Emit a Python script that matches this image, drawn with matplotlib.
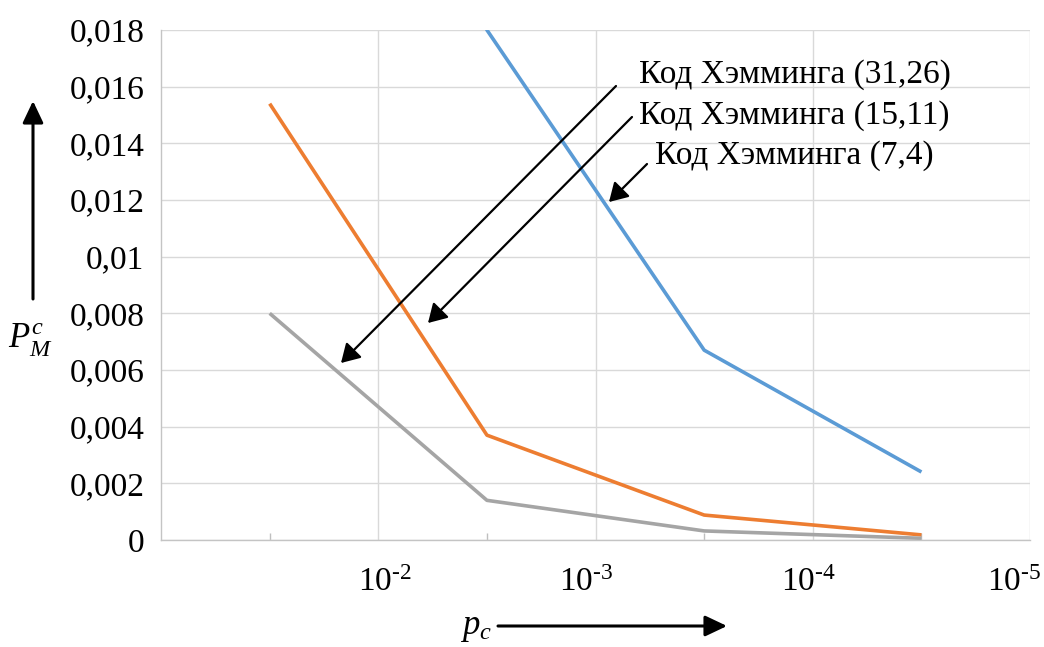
import matplotlib
matplotlib.use("Agg")
import matplotlib.pyplot as plt
from matplotlib.ticker import FixedLocator, NullFormatter, FixedFormatter
from matplotlib.patches import FancyArrowPatch
from matplotlib.transforms import ScaledTranslation

plt.rcParams['font.family'] = ['Liberation Serif', 'DejaVu Serif']
plt.rcParams['mathtext.fontset'] = 'custom'
plt.rcParams['mathtext.rm'] = 'Liberation Serif'
plt.rcParams['mathtext.it'] = 'Liberation Serif:italic'

# ---- data ----
p_values = [0.0316, 0.00316, 0.000316, 0.0000316]
hamming_7_4 = [0.048, 0.0180, 0.0067, 0.0024]
hamming_15_11 = [0.0154, 0.0037, 0.00088, 0.00018]
hamming_31_26 = [0.0080, 0.0014, 0.00032, 0.00006]

y_ticks = [0, 0.002, 0.004, 0.006, 0.008, 0.010, 0.012, 0.014, 0.016, 0.018]
y_labels = ['0', '0,002', '0,004', '0,006', '0,008', '0,01', '0,012', '0,014', '0,016', '0,018']
x_ticks = [1e-2, 1e-3, 1e-4, 1e-5]
x_labels = [r'$10^{\text{-}2}$', r'$10^{\text{-}3}$', r'$10^{\text{-}4}$', r'$10^{\text{-}5}$']

labels = ['Код Хэмминга (31,26)', 'Код Хэмминга (15,11)', 'Код Хэмминга (7,4)']

W, H = 1044, 647
fig = plt.figure(figsize=(W / 100, H / 100), dpi=100)
ax = fig.add_axes([161 / W, 1 - 540 / H, (1030 - 161) / W, (540 - 30) / H])

lw = 2.6
ax.plot(p_values, hamming_7_4, color='#5B9BD5', lw=lw, solid_capstyle='butt')
ax.plot(p_values, hamming_15_11, color='#ED7D31', lw=lw, solid_capstyle='butt')
ax.plot(p_values, hamming_31_26, color='#A5A5A5', lw=lw, solid_capstyle='butt')

ax.set_xscale('log')
ax.set_xlim(1e-1, 1e-5)
ax.set_ylim(0, 0.018)

ax.xaxis.set_major_locator(FixedLocator(x_ticks))
ax.xaxis.set_major_formatter(FixedFormatter(x_labels))
ax.xaxis.set_minor_locator(FixedLocator(p_values))
ax.xaxis.set_minor_formatter(NullFormatter())
ax.yaxis.set_major_locator(FixedLocator(y_ticks))
ax.yaxis.set_major_formatter(FixedFormatter(y_labels))

ax.tick_params(axis='both', which='major', length=0, labelsize=24)
ax.tick_params(axis='y', which='major', pad=12)
ax.tick_params(axis='x', which='major', pad=20)
ax.tick_params(axis='x', which='minor', direction='in', length=5, width=1, color='#BFBFBF')

# small horizontal shifts of the x tick labels, as in the reference
label_shift_px = [7, -9, -4, -16]
for lbl, dx in zip(ax.get_xticklabels(), label_shift_px):
    lbl.set_transform(lbl.get_transform() + ScaledTranslation(dx / 100, 0, fig.dpi_scale_trans))

ax.grid(True, which='major', color='#D9D9D9', lw=1.0)
ax.set_axisbelow(True)
for s in ['top', 'right']:
    ax.spines[s].set_visible(False)
for s in ['left', 'bottom']:
    ax.spines[s].set_color('#C4C4C4')
    ax.spines[s].set_linewidth(1.0)


def fx(px):
    return px / W


def fy(py):
    return 1 - py / H


# axis arrows
axis_arrow = '-|>,head_length=1.9,head_width=0.9'
fig.add_artist(FancyArrowPatch((fx(33), fy(299)), (fx(33), fy(101)), transform=fig.transFigure,
                               arrowstyle=axis_arrow, mutation_scale=7,
                               color='black', lw=2.2, shrinkA=0, shrinkB=0))
fig.add_artist(FancyArrowPatch((fx(498), fy(626)), (fx(727), fy(626)), transform=fig.transFigure,
                               arrowstyle=axis_arrow, mutation_scale=7,
                               color='black', lw=2.2, shrinkA=0, shrinkB=0))

fig.text(fx(8), fy(340), r'$P_M^c$', fontsize=25, va='center', ha='left')
fig.text(fx(460), fy(634), r'$p_c$', fontsize=25, va='baseline', ha='left')

# callouts
starts = [(616, 86), (632, 117), (647, 164)]
tips = [(341, 363), (428, 323), (609, 202)]
text_pos = [(639, 75), (639, 116), (655, 156)]
for lab, (sx, sy), (tx, ty), (lx, ly) in zip(labels, starts, tips, text_pos):
    fig.add_artist(FancyArrowPatch((fx(sx), fy(sy)), (fx(tx), fy(ty)), transform=fig.transFigure,
                                   arrowstyle='-|>,head_length=1.6,head_width=0.95', mutation_scale=7,
                                   color='black', lw=1.6, shrinkA=0, shrinkB=0))
    fig.text(fx(lx), fy(ly), lab, fontsize=24, va='center', ha='left')

fig.savefig('out.png', dpi=100)
